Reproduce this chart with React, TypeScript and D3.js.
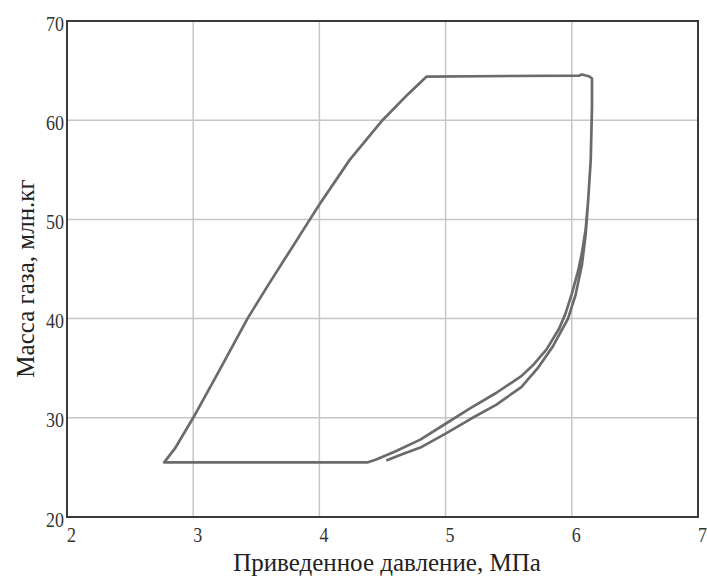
import React, { useEffect, useRef } from "react";
import * as d3 from "d3";

// pressure (MPa) vs gas mass (mln kg)
const loopPressure = [
  4.53, 4.65, 4.8, 5.0, 5.2, 5.4, 5.6, 5.73, 5.85, 5.97, 6.03, 6.08, 6.11,
  6.13, 6.15, 6.16, 6.16, 6.14, 6.08, 6.06, 4.85, 4.7, 4.5, 4.24, 4.0, 3.92,
  3.77, 3.6, 3.43, 3.2, 3.0, 2.86, 2.77, 2.8, 4.38, 4.45, 4.6, 4.8, 5.0, 5.2,
  5.4, 5.6, 5.7, 5.8, 5.9, 5.95, 6.0, 6.05, 6.08, 6.11, 6.13, 6.15, 6.16,
];
const loopMass = [
  25.7, 26.3, 27.0, 28.4, 29.9, 31.3, 33.1, 35.0, 37.2, 40.0, 42.4, 45.4,
  48.5, 52.0, 56.0, 61.5, 64.2, 64.4, 64.6, 64.5, 64.4, 62.6, 60.0, 56.0,
  51.5, 49.9, 46.9, 43.5, 40.0, 34.6, 30.0, 27.0, 25.5, 25.5, 25.5, 25.8,
  26.6, 27.8, 29.4, 31.0, 32.5, 34.2, 35.4, 36.9, 39.0, 40.5, 42.5, 44.8,
  46.6, 49.0, 52.0, 56.0, 61.3,
];
const xTicks = [2, 3, 4, 5, 6, 7];
const yTicks = [20, 30, 40, 50, 60, 70];

// tick digits in the source are taller than plain Times
const stretch = 1.2;

function App() {
  const ref = useRef<SVGSVGElement>(null);

  useEffect(() => {
    const margin = { left: 67, right: 9, top: 21, bottom: 61 };
    const width = 707 - margin.left - margin.right;
    const height = 578 - margin.top - margin.bottom;

    const svg = d3.select(ref.current);
    svg.selectAll("*").remove();
    const g = svg
      .append("g")
      .attr("transform", `translate(${margin.left},${margin.top})`);

    const x = d3.scaleLinear().domain([2, 7]).range([0, width]);
    const y = d3.scaleLinear().domain([20, 70]).range([height, 0]);

    // grid
    g.selectAll(".vgrid")
      .data(xTicks.slice(1, -1))
      .enter()
      .append("line")
      .attr("x1", (d) => x(d))
      .attr("x2", (d) => x(d))
      .attr("y1", 0)
      .attr("y2", height)
      .attr("stroke", "#c6c6c6")
      .attr("stroke-width", 1.5);
    g.selectAll(".hgrid")
      .data(yTicks.slice(1, -1))
      .enter()
      .append("line")
      .attr("y1", (d) => y(d))
      .attr("y2", (d) => y(d))
      .attr("x1", 0)
      .attr("x2", width)
      .attr("stroke", "#c6c6c6")
      .attr("stroke-width", 1.5);

    const pts: [number, number][] = loopPressure.map((p, i) => [p, loopMass[i]]);
    const line = d3
      .line<[number, number]>()
      .x((d) => x(d[0]))
      .y((d) => y(d[1]));
    g.append("path")
      .datum(pts)
      .attr("d", line)
      .attr("fill", "none")
      .attr("stroke", "#6b6b6b")
      .attr("stroke-width", 2.7)
      .attr("stroke-linejoin", "round");

    // frame
    g.append("rect")
      .attr("width", width)
      .attr("height", height)
      .attr("fill", "none")
      .attr("stroke", "#3a3a3a")
      .attr("stroke-width", 2);

    const font = "Liberation Serif";

    g.selectAll(".xlab")
      .data(xTicks)
      .enter()
      .append("text")
      .attr("transform", (d) => `translate(${x(d)},${height + 25}) scale(1,${stretch})`)
      .style("font-family", font)
      .style("font-size", "18px")
      .attr("fill", "#333")
      .text((d) => d);

    g.selectAll(".ylab")
      .data(yTicks)
      .enter()
      .append("text")
      .attr("transform", (d) => `translate(-3,${y(d) + 9.5}) scale(1,${stretch})`)
      .attr("text-anchor", "end")
      .style("font-family", font)
      .style("font-size", "18px")
      .attr("fill", "#333")
      .text((d) => d);

    svg
      .append("text")
      .attr("x", 387)
      .attr("y", 571)
      .attr("text-anchor", "middle")
      .style("font-family", font)
      .style("font-size", "25px")
      .attr("fill", "#222")
      .text("Приведенное давление, МПа");

    svg
      .append("text")
      .attr("transform", "translate(33.5,278.5) rotate(-90)")
      .attr("text-anchor", "middle")
      .style("font-family", font)
      .style("font-size", "25px")
      .attr("fill", "#222")
      .text("Масса газа, млн.кг");
  }, []);

  return (
    <div style={{ position: "absolute", left: 0, top: 0 }}>
      <svg ref={ref} width={707} height={578} style={{ display: "block", background: "#fff" }} />
    </div>
  );
}

export default App;
